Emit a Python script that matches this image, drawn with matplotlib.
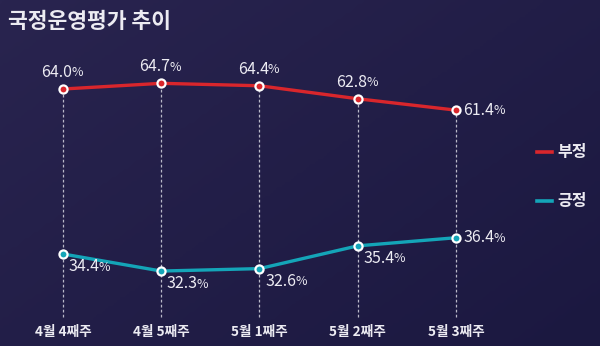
import numpy as np
import matplotlib
matplotlib.use('Agg')
import matplotlib.pyplot as plt
from matplotlib.colors import LinearSegmentedColormap

plt.rcParams['font.family'] = ['Noto Sans CJK KR', 'DejaVu Sans']

title = '국정운영평가 추이'
weeks = ['4월 4째주', '4월 5째주', '5월 1째주', '5월 2째주', '5월 3째주']
negative = [64.0, 64.7, 64.4, 62.8, 61.4]
positive = [34.4, 32.3, 32.6, 35.4, 36.4]
series_names = ['부정', '긍정']

red = '#d9262c'
teal = '#14a5b8'
txt = '#ecebf2'

# broken y scale: keep the two bands readable, squeeze the empty middle
k = 0.483
src = [0, 40, 58, 100]
dst = [0, 40, 40 + 18 * k, 40 + 18 * k + 42]


def fwd(v):
    return np.interp(v, src, dst)


def inv(v):
    return np.interp(v, dst, src)


fig = plt.figure(figsize=(6, 3.46), dpi=100)

# background gradient
bg = fig.add_axes([0, 0, 1, 1], zorder=0)
gx, gy = np.meshgrid(np.linspace(0, 1, 200), np.linspace(0, 1, 120))
grad = 0.55 * gx + 0.45 * gy
cmap = LinearSegmentedColormap.from_list('bg', ['#29244f', '#1b1840'])
bg.imshow(grad, cmap=cmap, aspect='auto', extent=[0, 1, 0, 1], origin='upper')
bg.axis('off')

ax = fig.add_axes([0, 0, 1, 1], zorder=1)
ax.patch.set_alpha(0)
ax.set_yscale('function', functions=(fwd, inv))
ax.set_xlim(-0.641, 5.466)
ax.set_ylim(23.08, 74.95)
ax.axis('off')

x = np.arange(len(weeks))

# dashed guides from each top point down to the labels
ax.vlines(x, 26.65, negative, colors='#b9b8c8', linestyles=(0, (2.2, 1.8)),
          linewidth=0.9, zorder=1)

ax.plot(x, negative, color=red, linewidth=2.4, zorder=2, solid_capstyle='round')
ax.plot(x, positive, color=teal, linewidth=2.4, zorder=2, solid_capstyle='round')
ax.scatter(x, negative, s=34, color=red, edgecolors='white', linewidths=1.6, zorder=3)
ax.scatter(x, positive, s=34, color=teal, edgecolors='white', linewidths=1.6, zorder=3)

NUM_FS = 11.5
PCT_FS = 9.0


def pct_label(xv, yv, dx, dy, ha):
    # number in one size, the % sign a bit smaller
    num = f'{yv:.1f}'
    if ha == 'center':
        t = ax.annotate(num, (xv, yv), xytext=(dx - 4.5, dy), textcoords='offset points',
                        ha='center', va='center', fontsize=NUM_FS, color=txt, zorder=4)
        fig.canvas.draw()
        bb = t.get_window_extent()
        ax.annotate('%', (xv, yv), xytext=(dx - 4.5 + bb.width * 0.72 / 2 - 0.6, dy - 0.4),
                    textcoords='offset points', ha='left', va='center',
                    fontsize=PCT_FS, color=txt, zorder=4)
    else:
        t = ax.annotate(num, (xv, yv), xytext=(dx, dy), textcoords='offset points',
                        ha='left', va='center', fontsize=NUM_FS, color=txt, zorder=4)
        fig.canvas.draw()
        bb = t.get_window_extent()
        ax.annotate('%', (xv, yv), xytext=(dx + bb.width * 0.72 - 0.6, dy - 0.4),
                    textcoords='offset points', ha='left', va='center',
                    fontsize=PCT_FS, color=txt, zorder=4)


for i, v in enumerate(negative):
    if i == len(negative) - 1:
        pct_label(i, v, 5.5, 0, 'left')
    else:
        pct_label(i, v, 0, 12, 'center')

for i, v in enumerate(positive):
    if i == len(positive) - 1:
        pct_label(i, v, 5.5, 0, 'left')
    else:
        pct_label(i, v, 4, -9, 'left')

for i, w in enumerate(weeks):
    ax.text(i, 24.8, w, ha='center', va='center', fontsize=9.8, fontweight='bold',
            color=txt, zorder=4)

# legend
for name, col, fy in zip(series_names, [red, teal], [152, 201]):
    yf = 1 - fy / 346
    fig.add_artist(plt.Line2D([537 / 600, 552 / 600], [yf, yf], color=col,
                              linewidth=2.6, zorder=5))
    fig.text(557 / 600, yf, name, ha='left', va='center', fontsize=11.5,
             fontweight='bold', color=txt, zorder=5)

fig.text(8 / 600, 1 - 22 / 346, title, ha='left', va='center', fontsize=15.5,
         fontweight='bold', color=txt, zorder=5)

fig.savefig('out.png', dpi=100)
